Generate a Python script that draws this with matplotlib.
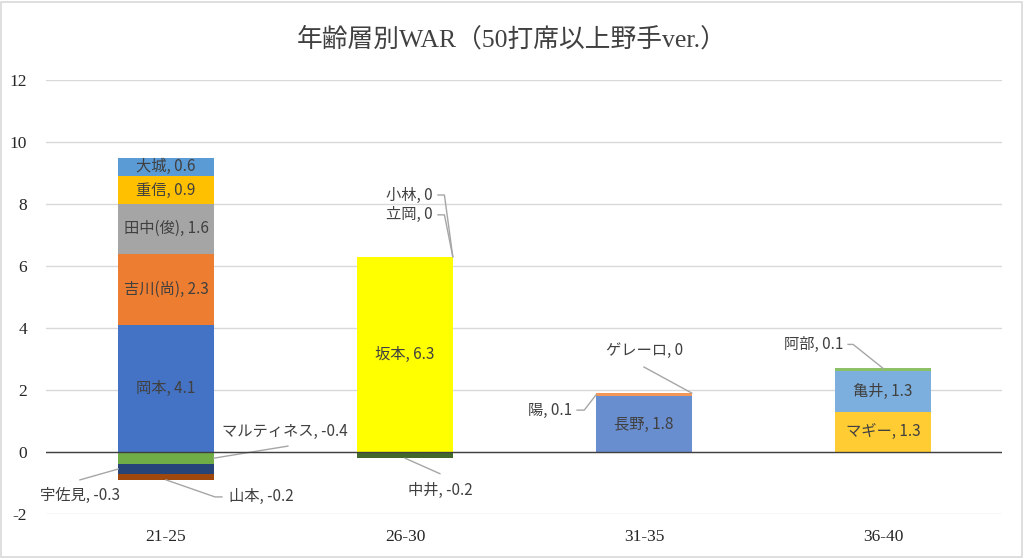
import matplotlib
matplotlib.use("Agg")
import matplotlib.pyplot as plt
from matplotlib.patches import Rectangle

plt.rcParams["axes.unicode_minus"] = False

# ---------------------------------------------------------------------------
# data
# ---------------------------------------------------------------------------
age_groups = ["21-25", "26-30", "31-35", "36-40"]

g1_names = ["岡本", "吉川(尚)", "田中(俊)", "重信", "大城", "マルティネス", "宇佐見", "山本"]
g1_war = [4.1, 2.3, 1.6, 0.9, 0.6, -0.4, -0.3, -0.2]

g2_names = ["坂本", "立岡", "小林", "中井"]
g2_war = [6.3, 0, 0, -0.2]

g3_names = ["長野", "陽", "ゲレーロ"]
g3_war = [1.8, 0.1, 0]

g4_names = ["マギー", "亀井", "阿部"]
g4_war = [1.3, 1.3, 0.1]

groups = [(g1_names, g1_war), (g2_names, g2_war), (g3_names, g3_war), (g4_names, g4_war)]

# ---------------------------------------------------------------------------
# styles
# ---------------------------------------------------------------------------
colors = {
    "岡本": "#4472C4", "吉川(尚)": "#ED7D31", "田中(俊)": "#A5A5A5", "重信": "#FFC000",
    "大城": "#5B9BD5", "マルティネス": "#70AD47", "宇佐見": "#264478", "山本": "#9E480E",
    "坂本": "#FFFF00", "立岡": "#636363", "小林": "#997300", "中井": "#43682B",
    "長野": "#698ED0", "陽": "#F1975A", "ゲレーロ": "#B7B7B7",
    "マギー": "#FFCD33", "亀井": "#7CAFDD", "阿部": "#8CC168",
}

# callout labels: text position, alignment, optional knee, and where the leader
# line touches the segment ("left"/"right"/"center" x, "mid"/"top"/"bottom" y)
callouts = {
    "宇佐見": dict(text=(-0.36, -1.39), ha="center", start=(-0.36, -0.90), knee=None, at=("left", "mid")),
    "山本": dict(text=(0.262, -1.45), ha="left", start=(0.234, -1.45), knee=(0.205, -1.45), at=("center", "bottom")),
    "マルティネス": dict(text=(0.234, 0.66), ha="left", start=(0.51, 0.19), knee=None, at=("right", "mid")),
    "小林": dict(text=(1.117, 8.29), ha="right", start=(1.138, 8.29), knee=(1.165, 8.29), at=("right", "top")),
    "立岡": dict(text=(1.117, 7.65), ha="right", start=(1.138, 7.65), knee=(1.165, 7.65), at=("right", "top")),
    "中井": dict(text=(1.146, -1.23), ha="center", start=(1.146, -0.70), knee=None, at=("center", "bottom")),
    "ゲレーロ": dict(text=(2.004, 3.29), ha="center", start=(2.0, 2.74), knee=None, at=("right", "top")),
    "陽": dict(text=(1.699, 1.35), ha="right", start=(1.72, 1.35), knee=(1.75, 1.35), at=("left", "mid")),
    "阿部": dict(text=(2.833, 3.47), ha="right", start=(2.854, 3.47), knee=(2.875, 3.47), at=("center", "top")),
}

label_font = ["Noto Sans CJK JP", "DejaVu Sans"]
serif_font = ["Liberation Serif", "Noto Sans CJK JP"]
label_color = "#404040"
line_color = "#A6A6A6"
bar_width = 0.4

fig = plt.figure(figsize=(10.24, 5.58), dpi=100)
ax = fig.add_axes([0.0454, 0.0789, 0.9336, 0.7777])

for i, (names, vals) in enumerate(groups):
    pos_base, neg_base = 0.0, 0.0
    for name, v in zip(names, vals):
        if v >= 0:
            bottom = pos_base
            pos_base += v
        else:
            bottom = neg_base
            neg_base += v
        ax.bar(i, v, bottom=bottom, width=bar_width, color=colors[name], zorder=2, linewidth=0)
        lo, hi = sorted((bottom, bottom + v))
        label = f"{name}, {v:g}"
        if name in callouts:
            c = callouts[name]
            ax_x = {"left": i - bar_width / 2, "right": i + bar_width / 2, "center": i}[c["at"][0]]
            ax_y = {"mid": (lo + hi) / 2, "top": hi, "bottom": lo}[c["at"][1]]
            pts = [c["start"]] + ([c["knee"]] if c["knee"] else []) + [(ax_x, ax_y)]
            ax.plot([p[0] for p in pts], [p[1] for p in pts], color=line_color, lw=1, zorder=3)
            ax.text(c["text"][0], c["text"][1], label, ha=c["ha"], va="center",
                    fontsize=11, color=label_color, family=label_font, zorder=4)
        else:
            ax.text(i, (lo + hi) / 2, label, ha="center", va="center",
                    fontsize=11, color=label_color, family=label_font, zorder=4)

ax.axhline(0, color="#404040", lw=1, zorder=3)

ax.set_xlim(-0.5, 3.5)
ax.set_ylim(-2, 12)
ax.set_yticks(range(-2, 13, 2))
ax.set_xticks(range(len(age_groups)))
ax.set_xticklabels(age_groups)
ax.grid(axis="y", color="#D9D9D9", lw=1, zorder=0)
ax.set_axisbelow(True)
for s in ax.spines.values():
    s.set_visible(False)
ax.tick_params(length=0, labelsize=12.5, colors="#262626")
ax.tick_params(axis="y", pad=14)
ax.tick_params(axis="x", pad=11)
for t in ax.get_xticklabels() + ax.get_yticklabels():
    t.set_family(serif_font)

fig.text(0.5, 0.930, "年齢層別WAR（50打席以上野手ver.）", ha="center", va="center",
         fontsize=18.5, color="#404040", family=serif_font)

fig.patches.append(Rectangle((0.001, 0.002), 0.997, 0.995, transform=fig.transFigure,
                             fill=False, ec="#D9D9D9", lw=1.2))

fig.savefig("out.png", dpi=100)
